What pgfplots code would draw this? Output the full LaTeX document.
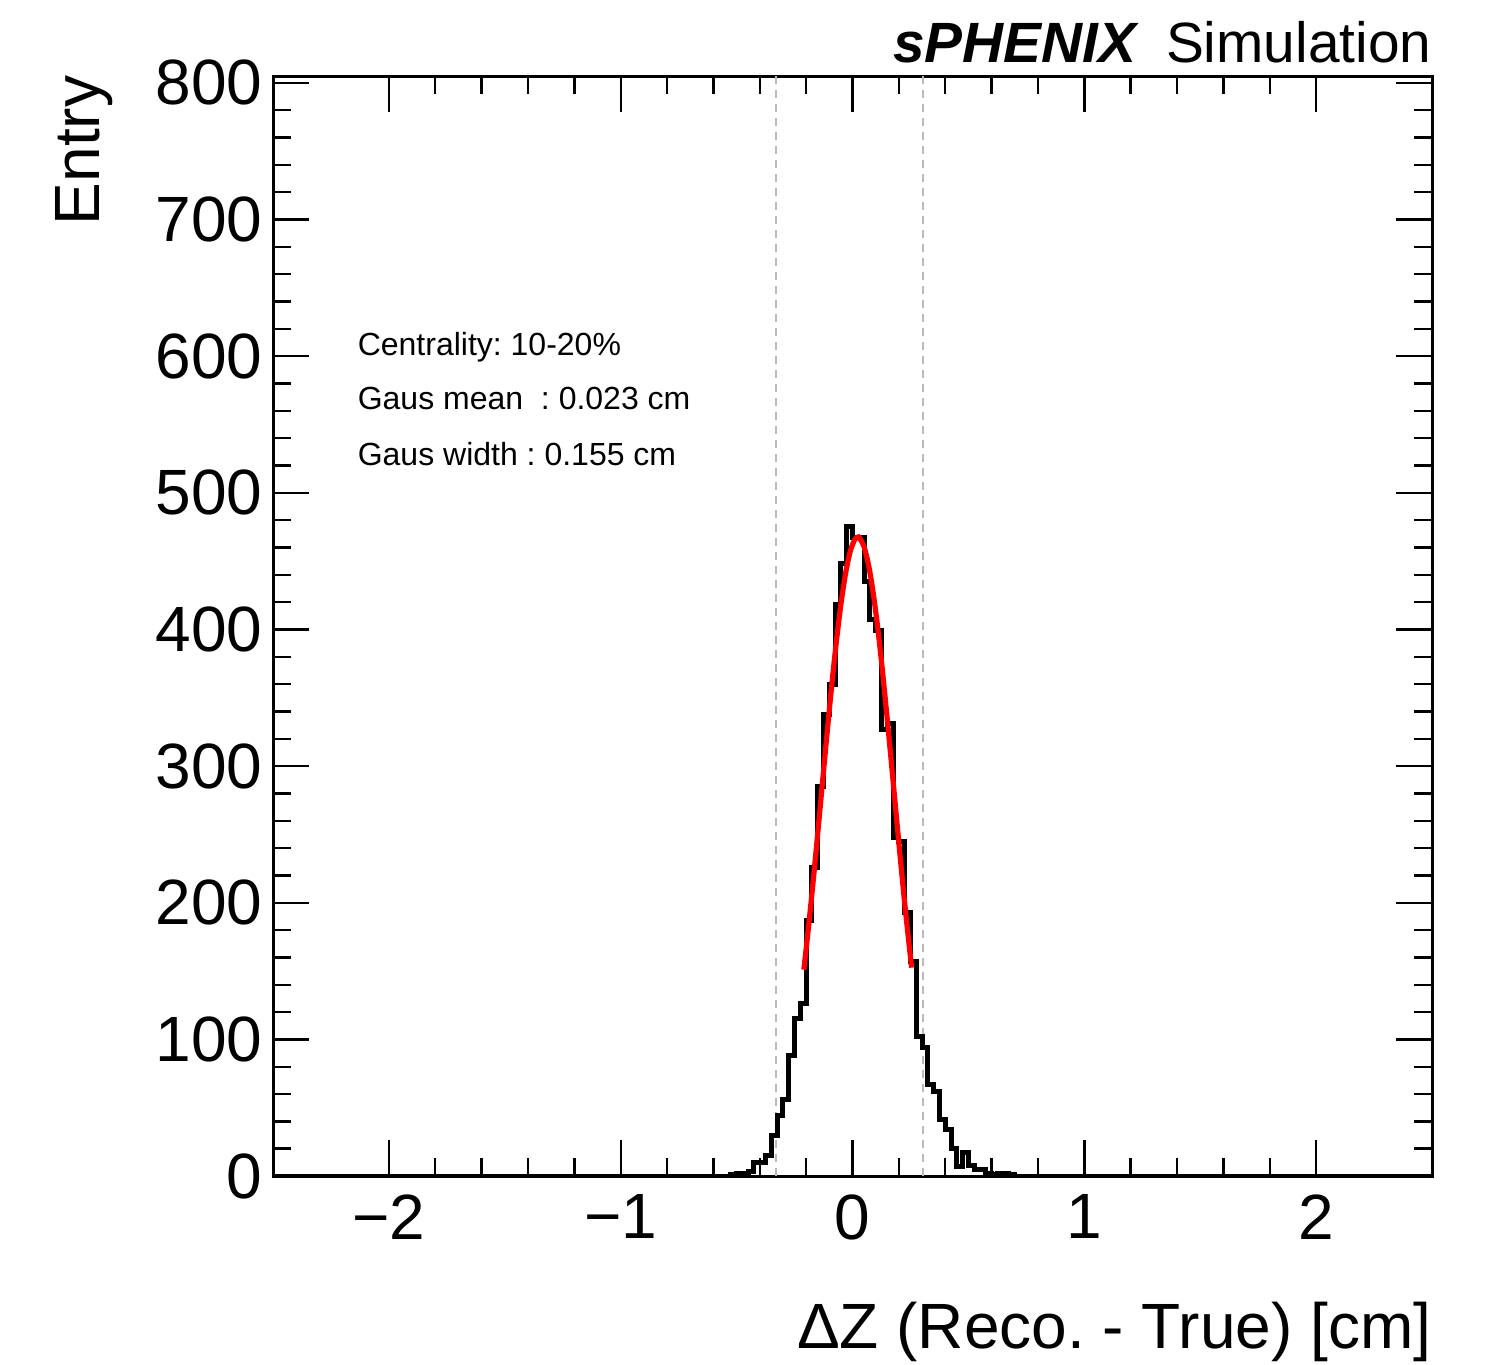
\documentclass[border=0pt]{standalone}
\usepackage{fontspec}
\setmainfont{Liberation Sans}
\usepackage{pgfplots}
\pgfplotsset{compat=1.18}
\definecolor{dashgray}{RGB}{185,185,185}
\frenchspacing
\begin{document}
\frenchspacing
\begin{tikzpicture}
\begin{axis}[
  at={(0pt,0pt)}, anchor=south west,
  scale only axis,
  width=289.75pt, height=275pt,
  xmin=-2.5, xmax=2.5, ymin=0, ymax=805,
  xtick={-2,-1,0,1,2},
  xticklabels={−2,−1,0,1,2},
  ytick={0,100,...,800},
  minor x tick num=4, minor y tick num=4,
  tick align=inside,
  major tick length=9pt, minor tick length=4.5pt,
  tick style={black, line width=0.6pt},
  axis line style={line width=0.75pt},
  /pgf/number format/assume math mode=true,
  ticklabel style={font=\fontsize{16}{19}\selectfont},
  yticklabel style={inner sep=0pt, anchor=east, xshift=-2.5pt},
  xticklabel style={inner sep=0pt, anchor=north, yshift=-4.5pt},
  clip=true,
]
\addplot[dashgray, line width=0.5pt, dash pattern=on 2pt off 1.5pt] coordinates {(-0.330,0) (-0.330,805)};
\addplot[dashgray, line width=0.5pt, dash pattern=on 2pt off 1.5pt] coordinates {(0.304,0) (0.304,805)};
\addplot[black, line width=1.25pt, const plot mark left] coordinates {
(-2.5,0) (-0.55,0) (-0.525,1) (-0.5,2) (-0.475,2) (-0.45,3) (-0.425,10) (-0.4,10)
(-0.375,15) (-0.35,30) (-0.325,44) (-0.3,56) (-0.275,88) (-0.25,115) (-0.225,126)
(-0.2,187) (-0.175,226) (-0.15,285) (-0.125,338) (-0.1,360) (-0.075,418) (-0.05,448)
(-0.025,475) (0,467) (0.025,467) (0.05,435) (0.075,407) (0.1,399) (0.125,327)
(0.15,331) (0.175,248) (0.2,245) (0.225,193) (0.25,157) (0.275,102) (0.3,94)
(0.325,67) (0.35,62) (0.375,41) (0.4,34) (0.425,20) (0.45,7) (0.475,17) (0.5,8)
(0.525,5) (0.55,5) (0.575,2) (0.6,1) (0.625,2) (0.65,2) (0.675,1) (0.7,0) (2.5,0)
};
\addplot[red, line width=1.3pt, smooth] coordinates {
(-0.21,151.0) (-0.19,181.9) (-0.17,215.3) (-0.15,250.8) (-0.13,287.2) (-0.11,323.5)
(-0.09,358.4) (-0.07,390.5) (-0.05,418.4) (-0.03,440.9) (-0.01,457.0) (0.01,465.9)
(0.023,467.5) (0.03,467.0) (0.05,460.4) (0.07,446.5) (0.09,425.8) (0.11,399.4)
(0.13,368.4) (0.15,334.2) (0.17,298.2) (0.19,261.7) (0.21,225.8) (0.23,191.6) (0.255,152.5)
};
\end{axis}
\node[anchor=base east, inner sep=0pt, font=\fontsize{14.2}{17}\selectfont] at (289.75pt,278.5pt) {\textbf{\textit{sPHENIX}}\hspace{6.75pt}Simulation};
\node[anchor=base east, inner sep=0pt, font=\fontsize{16}{19}\selectfont] at (289.75pt,-43pt) {ΔZ (Reco. - True) [cm]};
\node[anchor=base east, inner sep=0pt, rotate=90, font=\fontsize{16}{19}\selectfont] at (-43.25pt,275.25pt) {Entry};
\node[anchor=base west, inner sep=0pt, font=\fontsize{8}{10}\selectfont] at (21pt,205.25pt) {Centrality: 10-20\%};
\node[anchor=base west, inner sep=0pt, font=\fontsize{8}{10}\selectfont] at (21pt,191.75pt) {Gaus mean\ \ : 0.023 cm};
\node[anchor=base west, inner sep=0pt, font=\fontsize{8}{10}\selectfont] at (21pt,177.75pt) {Gaus width : 0.155 cm};
\pgfresetboundingbox
\path[use as bounding box] (-68.25pt,-47pt) rectangle (303pt,294pt);
\end{tikzpicture}
\end{document}
